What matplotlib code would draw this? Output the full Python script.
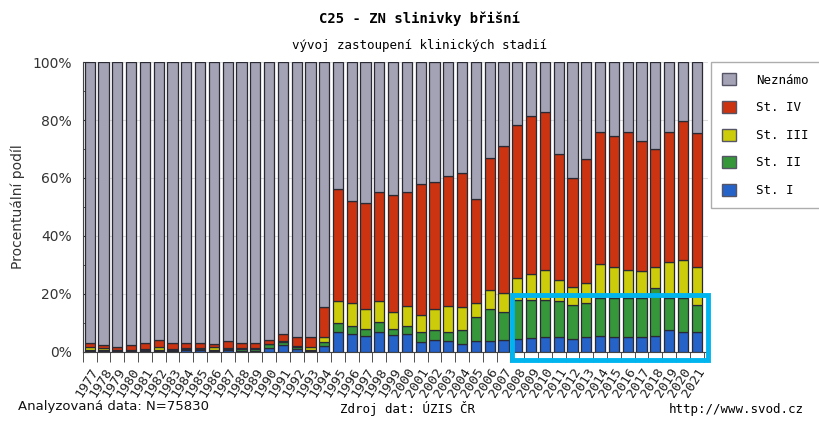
import matplotlib
matplotlib.use("Agg")
import matplotlib.pyplot as plt
import numpy as np
from matplotlib.patches import Patch, Rectangle

years = list(range(1977, 2022))

# podily stadii v %
st1 = [0.3, 0.3, 0.3, 0.3, 0.3, 0.3, 0.4, 0.5, 0.5, 0.3, 0.5, 0.4, 0.4, 1.3, 2.4, 1.0, 0.3, 2.2,
       7.0, 6.1, 5.5, 7.0, 5.9, 6.1, 3.3, 4.1, 3.8, 2.8, 3.8, 3.8, 4.1, 4.5, 4.7, 5.1, 5.1,
       4.5, 5.1, 5.5, 5.1, 5.1, 5.1, 5.5, 7.6, 7.0, 7.0]
st2 = [0.3, 0.3, 0.3, 0.3, 0.3, 0.3, 0.4, 0.6, 0.6, 0.3, 0.6, 0.5, 0.5, 1.3, 1.1, 0.8, 0.3, 1.4,
       2.9, 2.9, 2.3, 3.5, 1.9, 2.9, 3.7, 3.5, 3.2, 4.8, 8.2, 10.9, 9.7, 13.4, 13.2, 12.8, 12.6,
       11.7, 11.7, 13.0, 13.4, 13.4, 13.4, 16.4, 10.9, 11.5, 9.2]
st3 = [1.0, 0.7, 0.2, 0.2, 0.3, 1.0, 0.3, 0.3, 0.3, 1.0, 0.3, 0.3, 0.3, 0.2, 0.2, 0.3, 1.0, 1.7,
       7.8, 7.8, 7.0, 7.2, 6.0, 6.9, 5.9, 7.1, 8.9, 7.8, 4.8, 6.5, 6.4, 7.6, 8.9, 10.5, 7.2,
       6.3, 6.9, 11.8, 10.8, 9.9, 9.4, 7.4, 12.4, 13.3, 13.1]
st4 = [1.6, 1.1, 1.0, 1.6, 2.1, 2.5, 1.9, 1.8, 1.8, 1.2, 2.5, 1.8, 1.8, 1.3, 2.5, 3.2, 3.7, 10.2,
       38.4, 35.4, 36.5, 37.3, 40.2, 39.1, 45.0, 43.8, 44.9, 46.4, 35.8, 45.6, 50.8, 52.8, 54.5, 54.4, 43.3,
       37.4, 43.0, 45.6, 45.2, 47.5, 44.7, 40.7, 45.0, 48.0, 46.1]
neznamo = [96.8, 97.6, 98.2, 97.6, 97.0, 95.9, 97.0, 96.8, 96.8, 97.2, 96.1, 97.0, 97.0, 95.9, 93.8, 94.7, 94.7, 84.5,
           43.9, 47.8, 48.7, 45.0, 46.0, 45.0, 42.1, 41.5, 39.2, 38.2, 47.4, 33.2, 29.0, 21.7, 18.7, 17.2, 31.8,
           40.1, 33.3, 24.1, 25.5, 24.1, 27.4, 30.0, 24.1, 20.2, 24.6]

series = [("St. I", st1, "#2563c9"),
          ("St. II", st2, "#35963a"),
          ("St. III", st3, "#cccc0a"),
          ("St. IV", st4, "#cc3311"),
          ("Neznámo", neznamo, "#a3a3b5")]

mono = "DejaVu Sans Mono"

fig = plt.figure(figsize=(8.2, 4.22), dpi=100)
ax = fig.add_axes([0.101, 0.166, 0.762, 0.687])

x = np.arange(len(years))
bottom = np.zeros(len(years))
for name, vals, col in series:
    vals = np.array(vals)
    ax.bar(x, vals, bottom=bottom, width=0.74, color=col, edgecolor="#2a2a35",
           linewidth=0.9, zorder=3)
    bottom += vals

ax.set_xlim(-0.5, 44.8)
ax.set_ylim(0, 100)
ax.set_yticks(np.arange(0, 101, 20))
ax.set_yticklabels(["%d%%" % v for v in range(0, 101, 20)], fontsize=10, color="#333333")
ax.set_yticks(np.arange(0, 101, 10), minor=True)
ax.tick_params(axis="y", which="both", direction="in", length=4, color="#333333", pad=8)
ax.yaxis.grid(True, color="#dddddd", linewidth=0.8, zorder=0)
ax.set_ylabel("Procentuální podíl", fontsize=10, color="#333333")
ax.yaxis.set_label_coords(-0.093, 0.5)

ax.set_xticks(x)
ax.set_xticklabels([str(y) for y in years], rotation=58, ha="right", rotation_mode="anchor",
                   fontsize=9.5, family=mono, color="#222222")
ax.tick_params(axis="x", which="major", length=0, pad=10)
ax.set_xticks(np.arange(-0.5, 45, 1), minor=True)
ax.tick_params(axis="x", which="minor", direction="out", length=7, color="#333333")

for s in ["top", "right"]:
    ax.spines[s].set_visible(False)
ax.spines["left"].set_color("#444444")
ax.spines["bottom"].set_color("#444444")

# zvyrazneni obdobi 2009-2021
ax.add_patch(Rectangle((30.6, -2.8), 14.2, 22.5, fill=False, edgecolor="#00b4ee",
                       linewidth=3.5, clip_on=False, zorder=5))

fig.text(0.512, 0.955, "C25 - ZN slinivky břišní", ha="center", va="center",
         fontsize=10, fontweight="bold", family=mono)
fig.text(0.512, 0.893, "vývoj zastoupení klinických stadií", ha="center", va="center",
         fontsize=9, family=mono)

handles = [Patch(facecolor=c, edgecolor="#555566", label=n) for n, v, c in series[::-1]]
leg = fig.legend(handles=handles, loc="upper left", bbox_to_anchor=(0.867, 0.853),
                 borderaxespad=0, prop={"family": mono, "size": 9}, frameon=True,
                 fancybox=False, handlelength=1.1, handleheight=1.1, labelspacing=1.15,
                 borderpad=0.9, handletextpad=1.6)
leg.get_frame().set_edgecolor("#999999")
leg.get_frame().set_linewidth(1.0)

fig.text(0.022, 0.028, "Analyzovaná data: N=75830", fontsize=9.5, color="#111111",
         fontweight="medium")
fig.text(0.415, 0.022, "Zdroj dat: ÚZIS ČR", fontsize=9, family=mono)
fig.text(0.815, 0.022, "http://www.svod.cz", fontsize=9, family=mono)

fig.savefig("out.png", dpi=100)
